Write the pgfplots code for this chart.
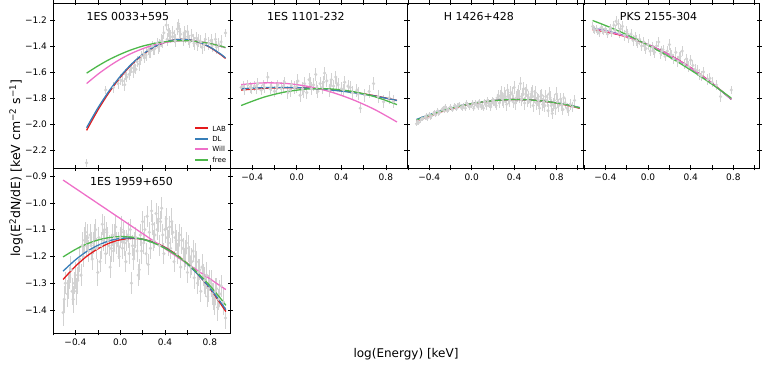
\documentclass[border=0pt]{standalone}
\usepackage{fontspec}
\setmainfont{DejaVu Sans}
\usepackage{pgfplots}
\pgfplotsset{compat=1.18}

\definecolor{labc}{HTML}{E41A1C}
\definecolor{dlc}{HTML}{377EB8}
\definecolor{willc}{HTML}{EE6FC8}
\definecolor{freec}{HTML}{4DB84A}
\definecolor{datac}{HTML}{D2D2D2}

\tikzset{ttl/.style={anchor=west, font=\fontsize{11}{12}\selectfont}}
\newcommand{\swatch}[1]{\textcolor{#1}{\rule[0.45ex]{13pt}{2.1pt}}}

\pgfplotsset{
  panel/.style={
    scale only axis, width=177pt, height=165pt, anchor=south west,
    tick align=center, major tick length=5pt, minor tick length=5pt,
    every tick/.style={black, line width=0.6pt},
    axis line style={line width=0.8pt},
    xtick={-0.4,0,0.4,0.8}, minor xtick={-0.6,-0.2,0.2,0.6,1.0},
    xticklabels={−0.4,0.0,0.4,0.8},
    tick label style={font=\fontsize{9}{10}\selectfont},
  },
  toprow/.style={ymin=-2.34, ymax=-1.07,
    ytick={-2.2,-2.0,-1.8,-1.6,-1.4,-1.2},
    yticklabels={−2.2,−2.0,−1.8,−1.6,−1.4,−1.2}},
  dat/.style={only marks, mark=*, mark size=1.4pt, color=datac,
    mark options={draw=datac, fill=datac},
    error bars/y dir=both, error bars/y explicit,
    error bars/error mark=none,
    error bars/error bar style={datac, line width=0.9pt}},
}

\begin{document}
\begin{tikzpicture}
\useasboundingbox (0,0) rectangle (764pt,367pt);

% 1ES 0033+595
\begin{axis}[panel, toprow, at={(53pt,199pt)}, xmin=-0.6, xmax=0.98, xticklabels={}]
\addplot[dat] table[x=x, y=y, y error=e] {
x y e
-0.30 -2.30 0.03
-0.13 -1.74 0.03
-0.06 -1.72 0.04
-0.02 -1.69 0.04
0.00 -1.66 0.04
0.02 -1.67 0.04
0.04 -1.70 0.05
0.05 -1.62 0.04
0.06 -1.64 0.04
0.08 -1.62 0.04
0.09 -1.59 0.04
0.10 -1.57 0.04
0.12 -1.60 0.05
0.13 -1.55 0.04
0.14 -1.58 0.04
0.15 -1.52 0.04
0.17 -1.54 0.05
0.18 -1.51 0.04
0.19 -1.48 0.04
0.21 -1.46 0.04
0.22 -1.49 0.04
0.23 -1.47 0.05
0.25 -1.43 0.04
0.26 -1.45 0.04
0.27 -1.44 0.05
0.29 -1.40 0.04
0.30 -1.43 0.04
0.31 -1.42 0.05
0.33 -1.38 0.04
0.34 -1.41 0.05
0.35 -1.40 0.05
0.37 -1.36 0.05
0.38 -1.37 0.05
0.39 -1.30 0.05
0.41 -1.24 0.04
0.42 -1.35 0.05
0.43 -1.28 0.05
0.44 -1.31 0.05
0.45 -1.33 0.05
0.47 -1.30 0.05
0.48 -1.33 0.05
0.49 -1.36 0.05
0.51 -1.27 0.05
0.52 -1.23 0.04
0.53 -1.29 0.05
0.54 -1.31 0.05
0.56 -1.35 0.05
0.57 -1.30 0.05
0.58 -1.33 0.05
0.60 -1.29 0.05
0.61 -1.34 0.05
0.62 -1.37 0.05
0.64 -1.32 0.05
0.65 -1.36 0.05
0.66 -1.38 0.05
0.68 -1.34 0.05
0.69 -1.39 0.05
0.70 -1.36 0.05
0.72 -1.37 0.05
0.73 -1.41 0.05
0.75 -1.39 0.05
0.76 -1.35 0.05
0.79 -1.38 0.05
0.81 -1.36 0.05
0.82 -1.40 0.05
0.85 -1.35 0.05
0.86 -1.41 0.05
0.88 -1.39 0.05
0.90 -1.37 0.05
0.94 -1.30 0.03
};
\addplot[draw=labc, line width=1.3pt, mark=none, smooth] coordinates {(-0.3,-2.050) (-0.2,-1.895) (-0.1,-1.759) (0.0,-1.643) (0.1,-1.546) (0.2,-1.469) (0.3,-1.411) (0.4,-1.372) (0.5,-1.352) (0.6,-1.352) (0.7,-1.372) (0.8,-1.411) (0.9,-1.469) (0.94,-1.497)};
\addplot[draw=dlc, line width=1.3pt, mark=none, smooth] coordinates {(-0.3,-2.030) (-0.2,-1.879) (-0.1,-1.748) (0.0,-1.635) (0.1,-1.541) (0.2,-1.465) (0.3,-1.409) (0.4,-1.371) (0.5,-1.352) (0.6,-1.352) (0.7,-1.371) (0.8,-1.409) (0.9,-1.465) (0.94,-1.493)};
\addplot[draw=willc, line width=1.3pt, mark=none, smooth] coordinates {(-0.3,-1.690) (-0.2,-1.619) (-0.1,-1.557) (0.0,-1.503) (0.1,-1.458) (0.2,-1.422) (0.3,-1.393) (0.4,-1.374) (0.5,-1.363) (0.6,-1.360) (0.7,-1.366) (0.8,-1.381) (0.9,-1.404) (0.94,-1.415)};
\addplot[draw=freec, line width=1.3pt, mark=none, smooth] coordinates {(-0.3,-1.610) (-0.2,-1.555) (-0.1,-1.506) (0.0,-1.465) (0.1,-1.430) (0.2,-1.402) (0.3,-1.382) (0.4,-1.368) (0.5,-1.361) (0.6,-1.361) (0.7,-1.368) (0.8,-1.382) (0.9,-1.402) (0.94,-1.413)};
\node[ttl] at (rel axis cs:0.17,0.92) {1ES 0033+595};
% legend
\node[anchor=south east, inner sep=1pt, font=\fontsize{7}{8}\selectfont] at (rel axis cs:0.985,0.02) {%
  \renewcommand{\arraystretch}{1.3}%
  \begin{tabular}{@{}l@{\hspace{4pt}}l@{}}
  \swatch{labc} & LAB\\
  \swatch{dlc} & DL\\
  \swatch{willc} & Will\\
  \swatch{freec} & free\\[-2pt]
  \end{tabular}};
\end{axis}

% 1ES 1101-232
\begin{axis}[panel, toprow, at={(230pt,199pt)}, xmin=-0.6, xmax=0.99, yticklabels={}]
\addplot[dat] table[x=x, y=y, y error=e] {
x y e
-0.50 -1.72 0.03
-0.48 -1.71 0.04
-0.47 -1.74 0.04
-0.44 -1.70 0.04
-0.42 -1.72 0.04
-0.41 -1.73 0.04
-0.38 -1.71 0.04
-0.36 -1.73 0.04
-0.35 -1.69 0.04
-0.32 -1.74 0.04
-0.30 -1.70 0.04
-0.29 -1.72 0.04
-0.26 -1.64 0.04
-0.24 -1.73 0.04
-0.23 -1.71 0.04
-0.20 -1.75 0.04
-0.18 -1.72 0.04
-0.17 -1.70 0.04
-0.14 -1.73 0.05
-0.12 -1.71 0.05
-0.11 -1.68 0.04
-0.08 -1.76 0.05
-0.06 -1.74 0.05
-0.05 -1.70 0.04
-0.02 -1.72 0.05
0.00 -1.71 0.05
0.01 -1.67 0.05
0.03 -1.78 0.05
0.05 -1.73 0.05
0.06 -1.75 0.05
0.07 -1.69 0.05
0.09 -1.76 0.05
0.11 -1.66 0.05
0.12 -1.69 0.05
0.13 -1.73 0.05
0.15 -1.70 0.05
0.17 -1.62 0.05
0.18 -1.72 0.05
0.19 -1.75 0.05
0.21 -1.69 0.05
0.23 -1.72 0.05
0.24 -1.68 0.05
0.25 -1.61 0.05
0.27 -1.67 0.05
0.29 -1.74 0.05
0.30 -1.71 0.05
0.31 -1.66 0.05
0.33 -1.71 0.05
0.35 -1.64 0.05
0.36 -1.69 0.05
0.37 -1.70 0.05
0.40 -1.73 0.05
0.42 -1.74 0.05
0.43 -1.68 0.05
0.46 -1.71 0.05
0.48 -1.72 0.05
0.50 -1.76 0.05
0.54 -1.74 0.05
0.55 -1.77 0.05
0.57 -1.88 0.04
0.61 -1.78 0.05
0.65 -1.75 0.05
0.69 -1.69 0.05
0.73 -1.79 0.05
0.78 -1.83 0.05
0.83 -1.80 0.05
0.87 -1.83 0.05
};
\addplot[draw=labc, line width=1.3pt, mark=none, smooth] coordinates {(-0.5,-1.740) (-0.3,-1.727) (-0.1,-1.722) (0.1,-1.725) (0.3,-1.737) (0.5,-1.756) (0.7,-1.784) (0.9,-1.820)};
\addplot[draw=dlc, line width=1.3pt, mark=none, smooth] coordinates {(-0.5,-1.730) (-0.3,-1.722) (-0.1,-1.720) (0.1,-1.726) (0.3,-1.739) (0.5,-1.759) (0.7,-1.786) (0.9,-1.820)};
\addplot[draw=willc, line width=1.3pt, mark=none, smooth] coordinates {(-0.5,-1.698) (-0.3,-1.685) (-0.1,-1.689) (0.1,-1.712) (0.3,-1.753) (0.5,-1.813) (0.7,-1.890) (0.9,-1.986)};
\addplot[draw=freec, line width=1.3pt, mark=none, smooth] coordinates {(-0.5,-1.859) (-0.3,-1.796) (-0.1,-1.754) (0.1,-1.732) (0.3,-1.731) (0.5,-1.751) (0.7,-1.791) (0.9,-1.852)};
\node[ttl] at (rel axis cs:0.19,0.92) {1ES 1101-232};
\end{axis}

% H 1426+428
\begin{axis}[panel, toprow, at={(407pt,199pt)}, width=176pt, xmin=-0.61, xmax=1.05, yticklabels={}]
\addplot[dat] table[x=x, y=y, y error=e] {
x y e
-0.52 -2.00 0.02
-0.51 -1.98 0.02
-0.50 -1.99 0.02
-0.48 -1.97 0.02
-0.47 -1.96 0.02
-0.46 -1.96 0.02
-0.44 -1.95 0.02
-0.43 -1.94 0.02
-0.42 -1.96 0.02
-0.40 -1.93 0.02
-0.39 -1.95 0.02
-0.38 -1.94 0.02
-0.36 -1.92 0.02
-0.35 -1.91 0.02
-0.34 -1.93 0.02
-0.32 -1.90 0.02
-0.31 -1.92 0.02
-0.30 -1.91 0.02
-0.28 -1.89 0.02
-0.27 -1.88 0.02
-0.26 -1.90 0.02
-0.25 -1.87 0.02
-0.24 -1.88 0.02
-0.23 -1.90 0.02
-0.22 -1.89 0.02
-0.20 -1.87 0.02
-0.19 -1.88 0.02
-0.18 -1.89 0.02
-0.16 -1.86 0.02
-0.15 -1.87 0.02
-0.14 -1.88 0.02
-0.13 -1.86 0.02
-0.12 -1.85 0.02
-0.10 -1.87 0.02
-0.09 -1.88 0.02
-0.08 -1.86 0.02
-0.06 -1.88 0.02
-0.05 -1.84 0.02
-0.04 -1.85 0.02
-0.03 -1.86 0.02
-0.02 -1.87 0.02
0.00 -1.86 0.02
0.01 -1.84 0.02
0.02 -1.88 0.02
0.03 -1.85 0.02
0.04 -1.84 0.02
0.05 -1.86 0.02
0.06 -1.87 0.02
0.07 -1.83 0.02
0.08 -1.85 0.02
0.09 -1.87 0.02
0.10 -1.86 0.02
0.11 -1.88 0.02
0.12 -1.83 0.02
0.13 -1.85 0.02
0.14 -1.86 0.03
0.15 -1.82 0.03
0.16 -1.84 0.03
0.17 -1.85 0.03
0.18 -1.87 0.03
0.19 -1.84 0.03
0.20 -1.82 0.03
0.21 -1.83 0.03
0.22 -1.85 0.03
0.23 -1.86 0.03
0.24 -1.80 0.03
0.25 -1.78 0.04
0.26 -1.84 0.04
0.27 -1.79 0.05
0.28 -1.76 0.05
0.29 -1.81 0.05
0.30 -1.83 0.05
0.31 -1.77 0.05
0.32 -1.79 0.05
0.33 -1.85 0.05
0.34 -1.74 0.05
0.35 -1.80 0.05
0.36 -1.82 0.05
0.37 -1.76 0.05
0.38 -1.77 0.05
0.39 -1.83 0.05
0.40 -1.72 0.05
0.41 -1.84 0.05
0.42 -1.80 0.05
0.43 -1.78 0.05
0.44 -1.75 0.05
0.45 -1.79 0.05
0.46 -1.69 0.05
0.47 -1.81 0.05
0.48 -1.78 0.05
0.49 -1.73 0.05
0.50 -1.84 0.05
0.51 -1.77 0.05
0.52 -1.74 0.05
0.53 -1.82 0.05
0.54 -1.80 0.05
0.55 -1.83 0.05
0.56 -1.77 0.05
0.57 -1.75 0.05
0.58 -1.86 0.05
0.59 -1.79 0.05
0.60 -1.76 0.05
0.61 -1.84 0.05
0.62 -1.81 0.05
0.63 -1.82 0.05
0.64 -1.88 0.05
0.65 -1.79 0.05
0.66 -1.78 0.05
0.67 -1.85 0.05
0.68 -1.83 0.05
0.69 -1.86 0.05
0.70 -1.79 0.05
0.71 -1.82 0.05
0.72 -1.90 0.05
0.73 -1.77 0.05
0.74 -1.80 0.05
0.75 -1.86 0.05
0.76 -1.92 0.04
0.77 -1.85 0.05
0.78 -1.82 0.05
0.79 -1.88 0.05
0.80 -1.77 0.05
0.81 -1.83 0.05
0.82 -1.86 0.05
0.84 -1.81 0.05
0.85 -1.85 0.05
0.86 -1.89 0.04
0.87 -1.80 0.04
0.88 -1.84 0.04
0.90 -1.88 0.04
0.91 -1.90 0.04
0.93 -1.85 0.04
0.95 -1.87 0.04
0.97 -1.82 0.04
};
\addplot[draw=labc, line width=1.3pt, mark=none, smooth] coordinates {(-0.52,-1.980) (-0.3,-1.911) (-0.1,-1.864) (0.1,-1.832) (0.3,-1.816) (0.5,-1.814) (0.7,-1.828) (0.9,-1.857) (1.02,-1.881)};
\addplot[draw=dlc, line width=1.3pt, mark=none, smooth] coordinates {(-0.52,-1.966) (-0.3,-1.903) (-0.1,-1.860) (0.1,-1.831) (0.3,-1.815) (0.5,-1.814) (0.7,-1.827) (0.9,-1.853) (1.02,-1.875)};
\addplot[draw=willc, line width=1.3pt, mark=none, smooth] coordinates {(-0.52,-1.975) (-0.3,-1.908) (-0.1,-1.862) (0.1,-1.831) (0.3,-1.816) (0.5,-1.814) (0.7,-1.827) (0.9,-1.855) (1.02,-1.878)};
\addplot[draw=freec, line width=1.3pt, mark=none, smooth] coordinates {(-0.52,-1.972) (-0.3,-1.906) (-0.1,-1.862) (0.1,-1.831) (0.3,-1.816) (0.5,-1.814) (0.7,-1.827) (0.9,-1.854) (1.02,-1.878)};
\node[ttl] at (rel axis cs:0.19,0.92) {H 1426+428};
\end{axis}

% PKS 2155-304
\begin{axis}[panel, toprow, at={(583pt,199pt)}, width=176pt, xmin=-0.61, xmax=1.04, yticklabels={}]
\addplot[dat] table[x=x, y=y, y error=e] {
x y e
-0.52 -1.25 0.03
-0.51 -1.27 0.03
-0.50 -1.28 0.03
-0.48 -1.27 0.03
-0.47 -1.29 0.03
-0.46 -1.30 0.03
-0.44 -1.26 0.03
-0.43 -1.28 0.03
-0.42 -1.29 0.03
-0.40 -1.27 0.03
-0.39 -1.29 0.03
-0.38 -1.31 0.03
-0.36 -1.28 0.03
-0.35 -1.26 0.03
-0.34 -1.30 0.03
-0.32 -1.24 0.03
-0.31 -1.28 0.04
-0.30 -1.21 0.04
-0.28 -1.23 0.04
-0.27 -1.30 0.04
-0.26 -1.27 0.04
-0.24 -1.25 0.04
-0.22 -1.32 0.04
-0.20 -1.29 0.04
-0.19 -1.31 0.04
-0.18 -1.34 0.04
-0.16 -1.31 0.04
-0.14 -1.36 0.04
-0.12 -1.33 0.04
-0.11 -1.36 0.04
-0.10 -1.38 0.04
-0.08 -1.35 0.04
-0.06 -1.40 0.04
-0.04 -1.37 0.04
-0.03 -1.40 0.04
-0.02 -1.42 0.04
0.00 -1.39 0.04
0.02 -1.44 0.04
0.04 -1.41 0.04
0.05 -1.43 0.04
0.06 -1.45 0.04
0.08 -1.40 0.04
0.10 -1.37 0.04
0.12 -1.46 0.04
0.13 -1.44 0.04
0.14 -1.43 0.04
0.16 -1.48 0.04
0.18 -1.44 0.04
0.20 -1.39 0.04
0.21 -1.46 0.04
0.22 -1.47 0.04
0.24 -1.50 0.04
0.26 -1.45 0.04
0.28 -1.52 0.04
0.29 -1.49 0.04
0.30 -1.48 0.04
0.32 -1.44 0.04
0.34 -1.54 0.04
0.36 -1.50 0.04
0.37 -1.53 0.04
0.38 -1.56 0.04
0.40 -1.51 0.04
0.42 -1.55 0.04
0.44 -1.58 0.04
0.46 -1.59 0.04
0.48 -1.62 0.04
0.50 -1.63 0.04
0.52 -1.60 0.04
0.56 -1.66 0.04
0.58 -1.65 0.04
0.60 -1.68 0.04
0.64 -1.70 0.04
0.68 -1.79 0.04
0.78 -1.74 0.03
};
\addplot[draw=labc, line width=1.3pt, mark=none, smooth] coordinates {(-0.52,-1.277) (-0.4,-1.291) (-0.2,-1.331) (0.0,-1.390) (0.2,-1.469) (0.4,-1.568) (0.6,-1.687) (0.78,-1.811)};
\addplot[draw=dlc, line width=1.3pt, mark=none, smooth] coordinates {(-0.52,-1.264) (-0.4,-1.282) (-0.2,-1.327) (0.0,-1.390) (0.2,-1.471) (0.4,-1.571) (0.6,-1.689) (0.78,-1.811)};
\addplot[draw=willc, line width=1.3pt, mark=none, smooth] coordinates {(-0.52,-1.270) (-0.4,-1.286) (-0.2,-1.329) (0.0,-1.390) (0.2,-1.470) (0.4,-1.570) (0.6,-1.688) (0.78,-1.810)};
\addplot[draw=freec, line width=1.3pt, mark=none, smooth] coordinates {(-0.52,-1.205) (-0.4,-1.243) (-0.2,-1.314) (0.0,-1.395) (0.2,-1.485) (0.4,-1.586) (0.6,-1.695) (0.78,-1.802)};
\node[ttl] at (rel axis cs:0.19,0.92) {PKS 2155-304};
\end{axis}

% 1ES 1959+650
\begin{axis}[panel, at={(53pt,34pt)}, xmin=-0.6, xmax=0.98, ymin=-1.486, ymax=-0.87,
  ytick={-1.4,-1.3,-1.2,-1.1,-1.0,-0.9},
  yticklabels={−1.4,−1.3,−1.2,−1.1,−1.0,−0.9}]
\addplot[dat] table[x=x, y=y, y error=e] {
x y e
-0.51 -1.41 0.05
-0.50 -1.36 0.05
-0.49 -1.30 0.04
-0.47 -1.34 0.05
-0.46 -1.31 0.05
-0.45 -1.28 0.04
-0.44 -1.25 0.05
-0.43 -1.33 0.05
-0.42 -1.36 0.05
-0.41 -1.30 0.04
-0.40 -1.27 0.05
-0.39 -1.33 0.05
-0.38 -1.29 0.05
-0.37 -1.25 0.04
-0.36 -1.21 0.05
-0.35 -1.27 0.04
-0.34 -1.16 0.05
-0.33 -1.20 0.04
-0.32 -1.14 0.05
-0.31 -1.11 0.04
-0.30 -1.16 0.04
-0.29 -1.13 0.05
-0.28 -1.18 0.04
-0.27 -1.12 0.04
-0.26 -1.16 0.05
-0.25 -1.21 0.04
-0.24 -1.15 0.04
-0.23 -1.13 0.05
-0.22 -1.10 0.04
-0.21 -1.17 0.04
-0.20 -1.26 0.05
-0.19 -1.13 0.04
-0.18 -1.22 0.04
-0.17 -1.16 0.05
-0.16 -1.08 0.04
-0.15 -1.14 0.04
-0.14 -1.10 0.05
-0.13 -1.19 0.04
-0.12 -1.11 0.04
-0.11 -1.14 0.05
-0.10 -1.16 0.04
-0.09 -1.24 0.04
-0.08 -1.17 0.05
-0.07 -1.12 0.04
-0.06 -1.18 0.04
-0.05 -1.13 0.05
-0.04 -1.09 0.04
-0.03 -1.15 0.04
-0.02 -1.16 0.05
-0.01 -1.20 0.04
0.00 -1.13 0.04
0.01 -1.10 0.05
0.02 -1.17 0.04
0.03 -1.11 0.04
0.04 -1.15 0.05
0.05 -1.22 0.04
0.06 -1.14 0.04
0.07 -1.12 0.05
0.08 -1.19 0.04
0.09 -1.10 0.04
0.10 -1.30 0.04
0.11 -1.16 0.04
0.12 -1.21 0.04
0.13 -1.16 0.05
0.14 -1.13 0.04
0.15 -1.18 0.04
0.16 -1.27 0.04
0.17 -1.25 0.04
0.18 -1.12 0.04
0.19 -1.18 0.05
0.20 -1.07 0.04
0.21 -1.15 0.04
0.22 -1.10 0.05
0.23 -1.19 0.04
0.24 -1.05 0.04
0.25 -1.23 0.04
0.26 -1.11 0.04
0.27 -1.17 0.04
0.28 -1.03 0.04
0.29 -1.08 0.04
0.30 -1.14 0.04
0.31 -1.12 0.05
0.32 -1.04 0.04
0.33 -1.10 0.04
0.34 -1.06 0.05
0.35 -1.16 0.04
0.36 -1.07 0.04
0.37 -1.02 0.04
0.38 -1.12 0.04
0.39 -1.19 0.04
0.40 -1.10 0.05
0.41 -1.06 0.04
0.42 -1.13 0.04
0.43 -1.15 0.05
0.44 -1.09 0.04
0.45 -1.17 0.04
0.46 -1.07 0.05
0.47 -1.11 0.04
0.48 -1.22 0.04
0.49 -1.13 0.05
0.50 -1.14 0.04
0.51 -1.19 0.04
0.52 -1.16 0.05
0.53 -1.12 0.04
0.54 -1.24 0.04
0.55 -1.14 0.05
0.56 -1.17 0.04
0.57 -1.21 0.04
0.58 -1.19 0.05
0.59 -1.15 0.04
0.60 -1.26 0.04
0.61 -1.17 0.05
0.62 -1.20 0.04
0.63 -1.24 0.04
0.64 -1.22 0.05
0.65 -1.18 0.04
0.66 -1.28 0.04
0.67 -1.20 0.05
0.68 -1.22 0.04
0.69 -1.30 0.04
0.70 -1.26 0.05
0.71 -1.25 0.04
0.72 -1.33 0.04
0.73 -1.24 0.05
0.74 -1.27 0.04
0.75 -1.29 0.05
0.76 -1.31 0.04
0.77 -1.27 0.05
0.78 -1.35 0.04
0.79 -1.32 0.05
0.80 -1.29 0.04
0.81 -1.30 0.05
0.82 -1.34 0.04
0.83 -1.35 0.05
0.84 -1.38 0.04
0.85 -1.33 0.05
0.86 -1.32 0.04
0.87 -1.39 0.05
0.88 -1.36 0.04
0.89 -1.34 0.05
0.90 -1.31 0.04
0.92 -1.37 0.05
0.94 -1.43 0.04
};
\addplot[draw=labc, line width=1.3pt, mark=none, smooth] coordinates {(-0.51,-1.286) (-0.4,-1.237) (-0.3,-1.200) (-0.2,-1.172) (-0.1,-1.151) (0.0,-1.138) (0.1,-1.133) (0.2,-1.136) (0.3,-1.147) (0.4,-1.166) (0.5,-1.193) (0.6,-1.227) (0.7,-1.270) (0.8,-1.320) (0.9,-1.379) (0.943,-1.406)};
\addplot[draw=dlc, line width=1.3pt, mark=none, smooth] coordinates {(-0.51,-1.255) (-0.4,-1.213) (-0.3,-1.182) (-0.2,-1.159) (-0.1,-1.142) (0.0,-1.133) (0.1,-1.131) (0.2,-1.136) (0.3,-1.149) (0.4,-1.168) (0.5,-1.195) (0.6,-1.229) (0.7,-1.270) (0.8,-1.318) (0.9,-1.373) (0.943,-1.399)};
\addplot[draw=willc, line width=1.3pt, mark=none] coordinates {(-0.51,-0.915) (0.943,-1.324)};
\addplot[draw=freec, line width=1.3pt, mark=none, smooth] coordinates {(-0.51,-1.202) (-0.4,-1.174) (-0.3,-1.154) (-0.2,-1.139) (-0.1,-1.130) (0.0,-1.126) (0.1,-1.128) (0.2,-1.136) (0.3,-1.150) (0.4,-1.170) (0.5,-1.195) (0.6,-1.227) (0.7,-1.265) (0.8,-1.309) (0.9,-1.359) (0.943,-1.383)};
\node[ttl] at (rel axis cs:0.19,0.917) {1ES 1959+650};
\end{axis}

\node[rotate=90, font=\fontsize{12.5}{14}\selectfont] at (16pt,199pt) {log(E\textsuperscript{2}dN/dE) [keV cm\textsuperscript{−2} s\textsuperscript{−1}]};
\node[font=\fontsize{12}{14}\selectfont] at (406pt,13pt) {log(Energy) [keV]};
\end{tikzpicture}
\end{document}
